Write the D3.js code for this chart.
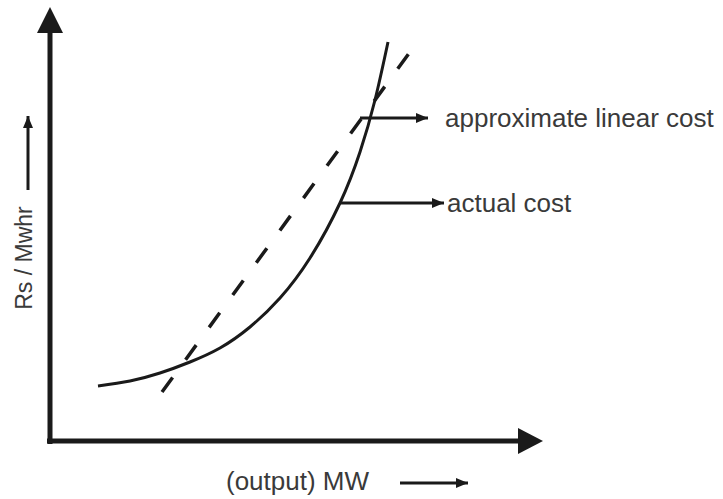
<!DOCTYPE html>
<html>
<head>
<meta charset="utf-8">
<script src="https://cdn.jsdelivr.net/npm/d3@7"></script>
<style>
  body { margin: 0; background: #fff; }
  svg text { font-family: "Liberation Sans", Arial, sans-serif; fill: #3a3a3a; }
</style>
</head>
<body>
<div id="chart"></div>
<script>
// output (MW, arbitrary units) vs cost (Rs/Mwhr, arbitrary units)
const actualOutput = [9.6, 16, 22, 28, 34, 40, 46, 52, 58, 62, 65, 67.6];
const actualCost   = [13.75, 15, 17, 19.75, 23.25, 28.5, 35.75, 45.75, 59.5, 72.25, 85.25, 99.75];
const linearOutput = [22.4, 72];
const linearCost   = [12.25, 97.25];

const labelNames = ["approximate linear cost", "actual cost"];
const labelFromX = [62, 58];
const labelToX   = [75.6, 78.8];
const labelY     = [80.75, 59.5];

const xTitle = "(output) MW";
const yTitle = "Rs / Mwhr";

const width = 723;
const height = 499;

const svg = d3.select("#chart").append("svg")
  .attr("width", width)
  .attr("height", height);

const x = d3.scaleLinear().domain([0, 100]).range([50, 550]);
const y = d3.scaleLinear().domain([0, 100]).range([441, 41]);

const defs = svg.append("defs");
defs.append("marker")
  .attr("id", "head")
  .attr("markerUnits", "userSpaceOnUse")
  .attr("viewBox", "0 0 12 10")
  .attr("refX", 12).attr("refY", 5)
  .attr("markerWidth", 12).attr("markerHeight", 10)
  .attr("orient", "auto")
  .append("path")
  .attr("d", "M0,0L12,5L0,10Z")
  .attr("fill", "#1a1a1a");

// axes with big arrow heads
const x0 = x(0), y0 = y(0);
svg.append("line")
  .attr("x1", x0 - 3).attr("y1", y0)
  .attr("x2", 522).attr("y2", y0)
  .attr("stroke", "#1a1a1a").attr("stroke-width", 5);
svg.append("path")
  .attr("d", `M518,${y0 - 13}L543,${y0}L518,${y0 + 13}Z`)
  .attr("fill", "#1a1a1a");
svg.append("line")
  .attr("x1", x0).attr("y1", y0 + 3)
  .attr("x2", x0).attr("y2", 30)
  .attr("stroke", "#1a1a1a").attr("stroke-width", 5);
svg.append("path")
  .attr("d", `M${x0 - 13},33L${x0},7L${x0 + 13},33Z`)
  .attr("fill", "#1a1a1a");

// actual cost curve
const actualPts = actualOutput.map((d, i) => [d, actualCost[i]]);
svg.append("path")
  .datum(actualPts)
  .attr("fill", "none")
  .attr("stroke", "#1a1a1a")
  .attr("stroke-width", 3)
  .attr("d", d3.line().x(d => x(d[0])).y(d => y(d[1])).curve(d3.curveNatural));

// approximate linear cost
const linearPts = linearOutput.map((d, i) => [d, linearCost[i]]);
svg.append("path")
  .datum(linearPts)
  .attr("fill", "none")
  .attr("stroke", "#1a1a1a")
  .attr("stroke-width", 3.5)
  .attr("stroke-dasharray", "18,22")
  .attr("d", d3.line().x(d => x(d[0])).y(d => y(d[1])));

// leader arrows + labels
labelNames.forEach((name, i) => {
  svg.append("line")
    .attr("x1", x(labelFromX[i])).attr("y1", y(labelY[i]))
    .attr("x2", x(labelToX[i])).attr("y2", y(labelY[i]))
    .attr("stroke", "#1a1a1a").attr("stroke-width", 3)
    .attr("marker-end", "url(#head)");
  svg.append("text")
    .attr("x", x(labelToX[i]) + 17 - i * 14)
    .attr("y", y(labelY[i]) + 9)
    .attr("font-size", 26)
    .text(name);
});

// axis titles
svg.append("text")
  .attr("x", 226).attr("y", 490)
  .attr("font-size", 26)
  .text(xTitle);
svg.append("line")
  .attr("x1", 400).attr("y1", 483)
  .attr("x2", 468).attr("y2", 483)
  .attr("stroke", "#1a1a1a").attr("stroke-width", 3)
  .attr("marker-end", "url(#head)");

svg.append("text")
  .attr("transform", "translate(32,258) rotate(-90)")
  .attr("text-anchor", "middle")
  .attr("font-size", 23)
  .text(yTitle);
svg.append("line")
  .attr("x1", 28).attr("y1", 190)
  .attr("x2", 28).attr("y2", 116)
  .attr("stroke", "#1a1a1a").attr("stroke-width", 3)
  .attr("marker-end", "url(#head)");
</script>
</body>
</html>
